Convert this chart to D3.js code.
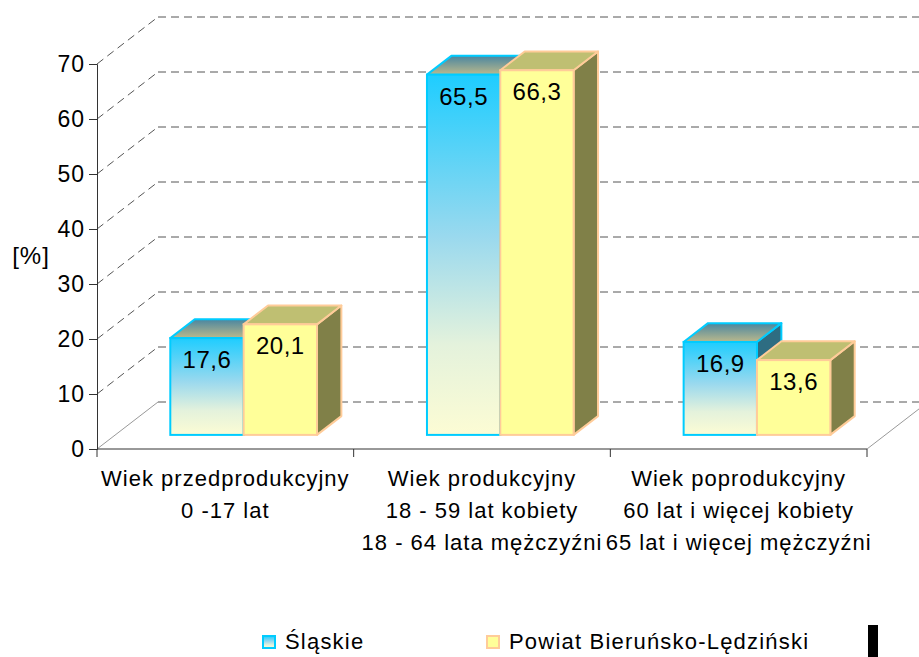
<!DOCTYPE html>
<html>
<head>
<meta charset="utf-8">
<script src="https://cdn.jsdelivr.net/npm/d3@7"></script>
<style>
  body { margin: 0; background: #fff; }
  svg { display: block; font-family: "Liberation Sans", Arial, sans-serif; }
</style>
</head>
<body>
<div id="chart"></div>
<script>
const categories = [
  ["Wiek przedprodukcyjny", "0 -17 lat"],
  ["Wiek produkcyjny", "18 - 59 lat kobiety", "18 - 64 lata mężczyźni"],
  ["Wiek poprodukcyjny", "60 lat i więcej kobiety", "65 lat i więcej mężczyźni"],
];
const series = ["Śląskie", "Powiat Bieruńsko-Lędziński"];
const slaskie = [17.6, 65.5, 16.9];
const powiat = [20.1, 66.3, 13.6];
const yTicks = [0, 10, 20, 30, 40, 50, 60, 70];

const width = 919;
const height = 657;

// front plane of the 3d box and depth offset of the back wall
const x0 = 97, x1 = 867;
const depthX = 61, depthY = 47;
const zFront = 0.3, zBack = 0.7;

const svg = d3
  .select("#chart")
  .append("svg")
  .attr("width", width)
  .attr("height", height);

const y = d3.scaleLinear().domain([0, 70]).range([449, 64]);
const x = d3.scaleBand().domain(d3.range(categories.length)).range([x0, x1]);
const xs = d3
  .scaleBand()
  .domain(series)
  .range([0, x.bandwidth()])
  .paddingOuter(0.75);

const pt = (px, v, z) => [px + z * depthX, y(v) - z * depthY];

// gradients
const defs = svg.append("defs");
const gFront = defs
  .append("linearGradient")
  .attr("id", "blue-front")
  .attr("x1", 0).attr("y1", 0).attr("x2", 0).attr("y2", 1);
gFront.append("stop").attr("offset", 0).attr("stop-color", "#1ecdff");
gFront.append("stop").attr("offset", 0.45).attr("stop-color", "#9ad9ee");
gFront.append("stop").attr("offset", 0.75).attr("stop-color", "#e4f2dc");
gFront.append("stop").attr("offset", 1).attr("stop-color", "#fcfcd4");

const gTop = defs
  .append("linearGradient")
  .attr("id", "blue-top")
  .attr("x1", 0).attr("y1", 0).attr("x2", 0).attr("y2", 1);
gTop.append("stop").attr("offset", 0).attr("stop-color", "#4a86a0");
gTop.append("stop").attr("offset", 1).attr("stop-color", "#bbb98c");

const colors = {
  "Śląskie": { front: "url(#blue-front)", top: "url(#blue-top)", side: "#2e6d82", stroke: "#00ccff" },
  "Powiat Bieruńsko-Lędziński": { front: "#ffff99", top: "#bfbf72", side: "#808048", stroke: "#ffcc99" },
};

// back wall grid lines
const grid = svg.append("g");
grid
  .selectAll(".back")
  .data(yTicks)
  .enter()
  .append("line")
  .attr("x1", x0 + depthX)
  .attr("x2", x1 + depthX)
  .attr("y1", (d) => y(d) - depthY)
  .attr("y2", (d) => y(d) - depthY)
  .attr("stroke", "#555")
  .attr("stroke-dasharray", "8,5");

grid
  .selectAll(".diag")
  .data(yTicks)
  .enter()
  .append("line")
  .attr("x1", x0)
  .attr("y1", (d) => y(d))
  .attr("x2", x0 + depthX)
  .attr("y2", (d) => y(d) - depthY)
  .attr("stroke", (d) => (d === 0 ? "#999" : "#555"))
  .attr("stroke-dasharray", (d) => (d === 0 ? null : "8,5"));

// right floor edge
grid
  .append("line")
  .attr("x1", x1).attr("y1", y(0))
  .attr("x2", x1 + depthX).attr("y2", y(0) - depthY)
  .attr("stroke", "#999");

// axes
svg
  .append("g")
  .attr("transform", `translate(${x0},0)`)
  .call(d3.axisLeft(y).tickValues(yTicks).tickSize(8).tickPadding(4))
  .call((g) => g.select(".domain").attr("stroke", "#333"))
  .call((g) => g.selectAll(".tick line").attr("stroke", "#333"))
  .call((g) =>
    g.selectAll(".tick text")
      .attr("font-size", 23)
      .attr("letter-spacing", 1)
      .attr("fill", "#000")
      .attr("font-family", null)
  );

const xAxis = svg.append("g");
xAxis
  .append("line")
  .attr("x1", x0).attr("x2", x1)
  .attr("y1", y(0)).attr("y2", y(0))
  .attr("stroke", "#333");
xAxis
  .selectAll(".xtick")
  .data(d3.range(categories.length + 1))
  .enter()
  .append("line")
  .attr("x1", (i) => x0 + i * x.step())
  .attr("x2", (i) => x0 + i * x.step())
  .attr("y1", y(0))
  .attr("y2", y(0) + 8)
  .attr("stroke", "#333");

const catLabels = xAxis
  .selectAll(".cat")
  .data(categories)
  .enter()
  .append("text")
  .attr("text-anchor", "middle")
  .attr("font-size", 22)
  .attr("letter-spacing", 1)
  .attr("fill", "#000");
catLabels
  .selectAll("tspan")
  .data((d, i) => d.map((t) => ({ t, i })))
  .enter()
  .append("tspan")
  .attr("x", (d) => x(d.i) + x.bandwidth() / 2)
  .attr("y", (d, j) => 486 + j * 32)
  .text((d) => d.t);

// y axis title
svg
  .append("text")
  .attr("x", 31)
  .attr("y", 264)
  .attr("text-anchor", "middle")
  .attr("font-size", 24)
  .attr("letter-spacing", 1)
  .text("[%]");

// bars
const barData = [];
categories.forEach((c, i) => {
  barData.push({ i, s: series[0], v: slaskie[i] });
  barData.push({ i, s: series[1], v: powiat[i] });
});

const bars = svg
  .selectAll(".bar")
  .data(barData)
  .enter()
  .append("g")
  .attr("class", "bar");

const poly = (pts) => "M" + pts.map((p) => p.join(",")).join("L") + "Z";

bars.each(function (d) {
  const g = d3.select(this);
  const c = colors[d.s];
  const l = x(d.i) + xs(d.s);
  const r = l + xs.bandwidth();
  // side
  g.append("path")
    .attr("d", poly([pt(r, d.v, zFront), pt(r, d.v, zBack), pt(r, 0, zBack), pt(r, 0, zFront)]))
    .attr("fill", c.side)
    .attr("stroke", c.stroke)
    .attr("stroke-width", 2)
    .attr("stroke-linejoin", "round");
  // top
  g.append("path")
    .attr("d", poly([pt(l, d.v, zFront), pt(l, d.v, zBack), pt(r, d.v, zBack), pt(r, d.v, zFront)]))
    .attr("fill", c.top)
    .attr("stroke", c.stroke)
    .attr("stroke-width", 2)
    .attr("stroke-linejoin", "round");
  // front
  const [fx, fy] = pt(l, d.v, zFront);
  const [, by] = pt(l, 0, zFront);
  g.append("rect")
    .attr("x", fx)
    .attr("y", fy)
    .attr("width", xs.bandwidth())
    .attr("height", by - fy)
    .attr("fill", c.front)
    .attr("stroke", c.stroke)
    .attr("stroke-width", 2);
  g.append("text")
    .attr("x", fx + xs.bandwidth() / 2)
    .attr("y", fy + 30)
    .attr("text-anchor", "middle")
    .attr("font-size", 24)
    .attr("letter-spacing", 0.5)
    .attr("fill", "#000")
    .text(String(d.v).replace(".", ","));
});

// legend
const legend = svg.append("g");
const legendX = [263, 487];
series.forEach((s, i) => {
  legend
    .append("rect")
    .attr("x", legendX[i])
    .attr("y", 636)
    .attr("width", 12)
    .attr("height", 12)
    .attr("fill", colors[s].front)
    .attr("stroke", colors[s].stroke)
    .attr("stroke-width", 2);
  legend
    .append("text")
    .attr("x", legendX[i] + 22)
    .attr("y", 649)
    .attr("font-size", 22)
    .attr("letter-spacing", 1.2)
    .text(s);
});

legend
  .append("rect")
  .attr("x", 868)
  .attr("y", 625)
  .attr("width", 10)
  .attr("height", 32)
  .attr("fill", "#000");
</script>
</body>
</html>
